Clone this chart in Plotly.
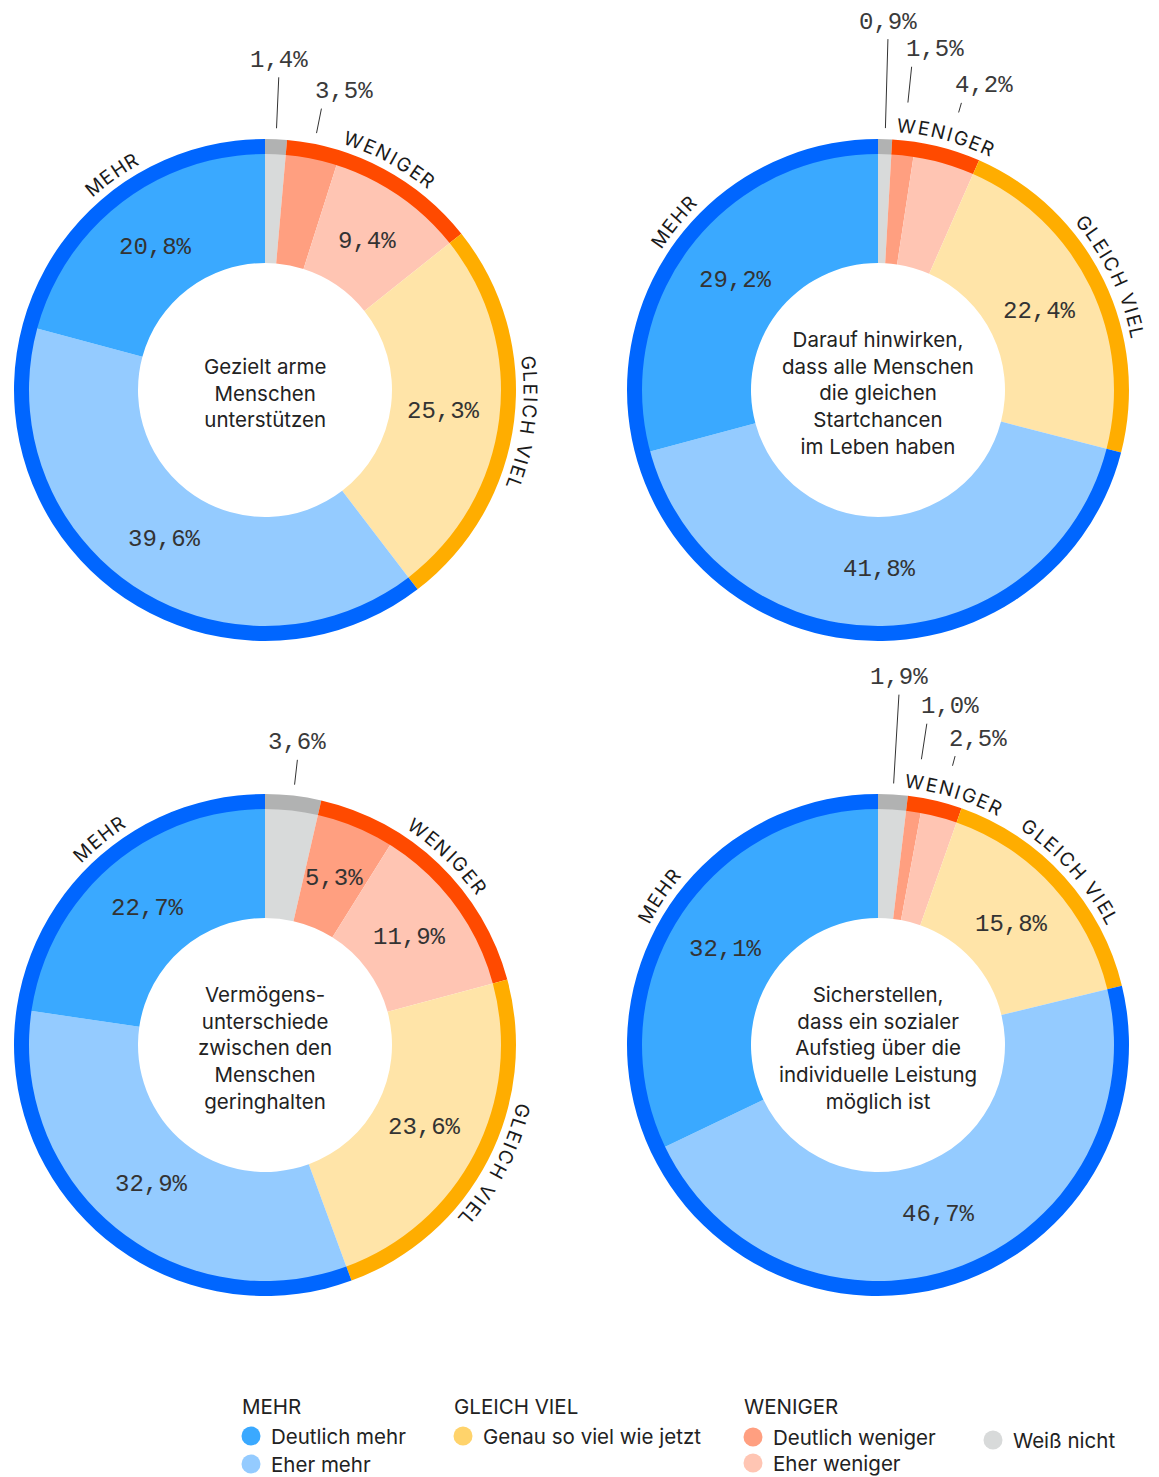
import math
import plotly.graph_objects as go

W, H = 1159, 1477

# ---------------- data ----------------
categories = ["Weiß nicht", "Deutlich weniger", "Eher weniger",
              "Genau so viel wie jetzt", "Eher mehr", "Deutlich mehr"]
category_group = ["Weiß nicht", "WENIGER", "WENIGER", "GLEICH VIEL", "MEHR", "MEHR"]
ring_groups = ["Weiß nicht", "WENIGER", "GLEICH VIEL", "MEHR"]

titles = [
    "Gezielt arme<br>Menschen<br>unterstützen",
    "Darauf hinwirken,<br>dass alle Menschen<br>die gleichen<br>Startchancen<br>im Leben haben",
    "Vermögens-<br>unterschiede<br>zwischen den<br>Menschen<br>geringhalten",
    "Sicherstellen,<br>dass ein sozialer<br>Aufstieg über die<br>individuelle Leistung<br>möglich ist",
]
values_1 = [1.4, 3.5, 9.4, 25.3, 39.6, 20.8]
values_2 = [0.9, 1.5, 4.2, 22.4, 41.8, 29.2]
values_3 = [3.6, 5.3, 11.9, 23.6, 32.9, 22.7]
values_4 = [1.9, 1.0, 2.5, 15.8, 46.7, 32.1]
all_values = [values_1, values_2, values_3, values_4]

legend_titles = ["MEHR", "GLEICH VIEL", "WENIGER"]

# ---------------- styles ----------------
seg_colors = ["#D8DADA", "#FF9F80", "#FFC5B3", "#FFE4A8", "#94CBFF", "#3AA9FF"]
ring_colors = {"Weiß nicht": "#B1B2B2", "WENIGER": "#FF4A00",
               "GLEICH VIEL": "#FFAD00", "MEHR": "#0066FF"}
legend_dot_colors = {"Deutlich mehr": "#3AA9FF", "Eher mehr": "#94CBFF",
                     "Genau so viel wie jetzt": "#FFD36B",
                     "Deutlich weniger": "#FF9F80", "Eher weniger": "#FFC5B3",
                     "Weiß nicht": "#D8DADA"}

centers = [(265, 390), (878, 390), (265, 1045), (878, 1045)]
R_OUT, R_IN, R_HOLE = 251, 237, 127
R_PCT = 180
R_TXT = 265
LABEL_FONT = "Inter, Roboto, sans-serif"
MONO_FONT = "Liberation Mono, DejaVu Sans Mono, monospace"
MONO_SIZE = 24
LBL_SIZE = 19
LETTER_SP = 2.0
char_w = {"M": .87, "E": .59, "H": .74, "R": .65, "W": .99, "N": .76, "I": .28,
          "G": .77, "L": .55, "C": .74, "V": .70, " ": .28}


def xp(x):
    return x / W


def yp(y):
    return 1 - y / H


def pol(cx, cy, r, ang):
    a = math.radians(ang)
    return cx + r * math.sin(a), cy - r * math.cos(a)


def fmt(v):
    return f"{v:.1f}".replace(".", ",") + "%"


fig = go.Figure()
annotations = []
shapes = []

for k, vals in enumerate(all_values):
    cx, cy = centers[k]
    total = sum(vals)
    mids = []
    acc = 0.0
    for v in vals:
        mids.append(360 * (acc + v / 2) / total)
        acc += v
    gvals = [sum(v for v, g in zip(vals, category_group) if g == grp) for grp in ring_groups]
    gspan = {}
    acc = 0.0
    for grp, gv in zip(ring_groups, gvals):
        gspan[grp] = (360 * acc / total, 360 * (acc + gv) / total)
        acc += gv

    # inner pie
    fig.add_trace(go.Pie(
        values=vals, labels=categories, sort=False, direction="clockwise", rotation=0,
        hole=R_HOLE / R_IN, marker=dict(colors=seg_colors, line=dict(width=0)),
        textinfo="none", hoverinfo="skip", showlegend=False,
        domain=dict(x=[xp(cx - R_IN), xp(cx + R_IN)], y=[yp(cy + R_IN), yp(cy - R_IN)]),
    ))
    # outer ring
    fig.add_trace(go.Pie(
        values=gvals, labels=ring_groups, sort=False, direction="clockwise", rotation=0,
        hole=R_IN / R_OUT - 0.004,
        marker=dict(colors=[ring_colors[g] for g in ring_groups], line=dict(width=0)),
        textinfo="none", hoverinfo="skip", showlegend=False,
        domain=dict(x=[xp(cx - R_OUT), xp(cx + R_OUT)], y=[yp(cy + R_OUT), yp(cy - R_OUT)]),
    ))

    # centre title
    annotations.append(dict(x=xp(cx), y=yp(cy + 3), xref="paper", yref="paper",
                            text=titles[k], showarrow=False, xanchor="center", yanchor="middle",
                            font=dict(family=LABEL_FONT, size=20.5, color="#222222")))

    small = [i for i, v in enumerate(vals) if v < 5]
    gray_mid = mids[0] if 0 in small else None

    # curved group labels
    spans = []
    for grp in ["WENIGER", "GLEICH VIEL", "MEHR"]:
        if grp == "MEHR":
            anchor = mids[5] + 2
        else:
            a0, a1 = gspan[grp]
            anchor = (a0 + a1) / 2
        widths = [char_w.get(c, .6) * LBL_SIZE for c in grp]
        total_w = sum(widths) + LETTER_SP * (len(grp) - 1)
        span = math.degrees(total_w / R_TXT)
        st = anchor - span / 2
        if gray_mid is not None and gray_mid + 2.5 > st and gray_mid < st + span:
            st = gray_mid + 2.5
        spans.append((st, st + span))
        pos = 0.0
        for c, w in zip(grp, widths):
            ang = st + math.degrees((pos + w / 2) / R_TXT)
            pos += w + LETTER_SP
            if c == " ":
                continue
            x, y = pol(cx, cy, R_TXT, ang)
            annotations.append(dict(x=xp(x), y=yp(y), xref="paper", yref="paper", text=c,
                                    showarrow=False, xanchor="center", yanchor="middle",
                                    textangle=ang, font=dict(family=LABEL_FONT, size=LBL_SIZE,
                                                             color="#1a1a1a")))

    # percentage labels
    n = len(small)
    bottoms = {}
    for i in small:
        inside_span = any(a0 <= mids[i] <= a1 for a0, a1 in spans)
        bottoms[i] = 289 if inside_span else 262
    base = max([max(bottoms[i] + 10, 287) for i in small], default=287)
    for i, v in enumerate(vals):
        if i in small:
            j = small.index(i)
            ang = mids[i]
            rb = bottoms[i]
            rt = base + (n - 1 - j) * 26
            x0, y0 = pol(cx, cy, rb, ang)
            x1, y1 = pol(cx, cy, rt, ang)
            shapes.append(dict(type="line", xref="paper", yref="paper",
                               x0=xp(x0), y0=yp(y0), x1=xp(x1), y1=yp(y1),
                               line=dict(color="#333333", width=1)))
            if j == 0:
                annotations.append(dict(x=xp(x1), y=yp(y1 - 17), xref="paper", yref="paper",
                                        text=fmt(v), showarrow=False, xanchor="center",
                                        yanchor="middle",
                                        font=dict(family=MONO_FONT, size=MONO_SIZE, color="#3a3a3a")))
            else:
                annotations.append(dict(x=xp(x1 - 8), y=yp(y1 - 17), xref="paper", yref="paper",
                                        text=fmt(v), showarrow=False, xanchor="left",
                                        yanchor="middle",
                                        font=dict(family=MONO_FONT, size=MONO_SIZE, color="#3a3a3a")))
        else:
            x, y = pol(cx, cy, R_PCT, mids[i])
            annotations.append(dict(x=xp(x), y=yp(y), xref="paper", yref="paper",
                                    text=fmt(v), showarrow=False, xanchor="center",
                                    yanchor="middle",
                                    font=dict(family=MONO_FONT, size=MONO_SIZE, color="#333333")))

# ---------------- legend ----------------
legend_cols = [
    (241, "MEHR", [("Deutlich mehr", 1436), ("Eher mehr", 1464)]),
    (453, "GLEICH VIEL", [("Genau so viel wie jetzt", 1436)]),
    (743, "WENIGER", [("Deutlich weniger", 1437), ("Eher weniger", 1463)]),
    (983, None, [("Weiß nicht", 1440)]),
]
for x0, title, items in legend_cols:
    if title:
        annotations.append(dict(x=xp(x0 - 1), y=yp(1406), xref="paper", yref="paper", text=title,
                                showarrow=False, xanchor="left", yanchor="middle",
                                font=dict(family=LABEL_FONT, size=20.5, color="#222222")))
    for name, yy in items:
        dcx = x0 + 10
        r = 9.5
        shapes.append(dict(type="circle", xref="paper", yref="paper",
                           x0=xp(dcx - r), x1=xp(dcx + r), y0=yp(yy + r), y1=yp(yy - r),
                           fillcolor=legend_dot_colors[name], line=dict(width=0)))
        annotations.append(dict(x=xp(x0 + 28), y=yp(yy), xref="paper", yref="paper", text=name,
                                showarrow=False, xanchor="left", yanchor="middle",
                                font=dict(family=LABEL_FONT, size=20.5, color="#222222")))

fig.update_layout(width=W, height=H, margin=dict(l=0, r=0, t=0, b=0),
                  paper_bgcolor="white", plot_bgcolor="white",
                  annotations=annotations, shapes=shapes, showlegend=False)

fig.write_html("out.html")
